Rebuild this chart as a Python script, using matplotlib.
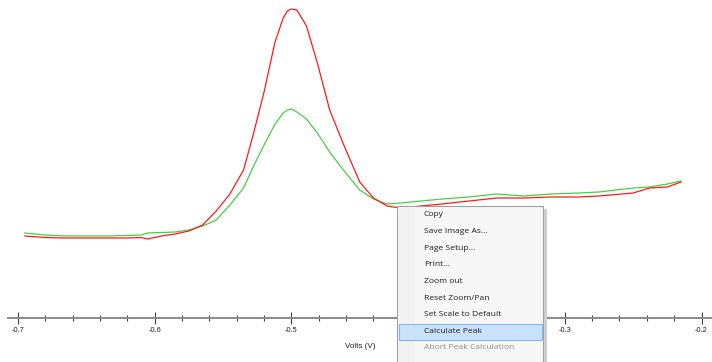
import numpy as np
import matplotlib.pyplot as plt
from matplotlib.patches import Rectangle
from matplotlib.ticker import MultipleLocator

plt.rcParams['axes.unicode_minus'] = False

# Potencial (V) y corriente (uA)
volts = [-0.695, -0.68, -0.665, -0.65, -0.635, -0.62, -0.61, -0.605, -0.595, -0.585,
         -0.575, -0.565, -0.555, -0.545, -0.535, -0.528, -0.52, -0.512, -0.506, -0.503,
         -0.5, -0.496, -0.489, -0.481, -0.472, -0.462, -0.45, -0.44, -0.43, -0.42,
         -0.405, -0.39, -0.37, -0.35, -0.33, -0.31, -0.29, -0.275, -0.25, -0.238,
         -0.225, -0.215]

red_curr = [0.82, 0.805, 0.80, 0.80, 0.80, 0.80, 0.805, 0.79, 0.82, 0.84,
            0.87, 0.93, 1.07, 1.24, 1.48, 1.83, 2.26, 2.76, 3.00, 3.07,
            3.09, 3.08, 2.92, 2.55, 2.08, 1.74, 1.36, 1.20, 1.12, 1.10,
            1.12, 1.14, 1.17, 1.20, 1.20, 1.21, 1.21, 1.22, 1.25, 1.30,
            1.31, 1.36]

green_curr = [0.85, 0.83, 0.82, 0.82, 0.82, 0.825, 0.83, 0.85, 0.855, 0.86,
              0.88, 0.92, 0.98, 1.13, 1.30, 1.51, 1.73, 1.94, 2.05, 2.08,
              2.09, 2.06, 1.99, 1.85, 1.66, 1.48, 1.28, 1.19, 1.14, 1.15,
              1.17, 1.19, 1.21, 1.24, 1.22, 1.24, 1.25, 1.26, 1.30, 1.31,
              1.34, 1.37]

tick_vals = [-0.7, -0.6, -0.5, -0.4, -0.3, -0.2]
tick_labels = ['-0.7', '-0.6', '-0.5', '', '-0.3', '-0.2']  # -0.4 queda tapado por el menu

menu_items = ["Copy", "Save Image As...", "Page Setup...", "Print...", "Zoom out",
              "Reset Zoom/Pan", "Set Scale to Default", "Calculate Peak",
              "Abort Peak Calculation"]

fig = plt.figure(figsize=(7.12, 3.62), dpi=100)
ax = fig.add_axes([0, 0, 1, 1])

ax.plot(volts, green_curr, color='#45d045', lw=0.9)
ax.plot(volts, red_curr, color='#ff1a1a', lw=0.9)

ax.set_xlim(-0.71317, -0.19232)
ax.set_ylim(-0.44, 3.18)

for s in ['left', 'right', 'top']:
    ax.spines[s].set_visible(False)
ax.spines['bottom'].set_position(('data', 0))
ax.spines['bottom'].set_color('#8a8a8a')
ax.spines['bottom'].set_linewidth(1.4)
ax.spines['bottom'].set_bounds(-0.7073, -0.19232)

ax.set_yticks([])
ax.set_xticks(tick_vals)
ax.set_xticklabels(tick_labels, family='Liberation Sans')
ax.xaxis.set_minor_locator(MultipleLocator(0.02))
ax.tick_params(axis='x', which='major', direction='inout', length=8.6, width=0.8,
               color='#404040', pad=2.5, labelsize=5.3, labelcolor='#222222')
ax.tick_params(axis='x', which='minor', direction='inout', length=4.3, width=0.8,
               color='#404040')

ax.set_xlabel("Volts (V)", fontsize=5.8, family='Liberation Sans', color='#222222')
ax.xaxis.set_label_coords(360 / 712, (362 - 346) / 362)
ax.xaxis.label.set_va('center')

# Menu contextual (coordenadas en pixeles)
om = fig.add_axes([0, 0, 1, 1], zorder=5)
om.set_xlim(0, 712)
om.set_ylim(362, 0)
om.axis('off')
om.patch.set_visible(False)

om.add_patch(Rectangle((543, 209), 4, 160, color='#cfcfcf', lw=0))
om.add_patch(Rectangle((397, 206), 146, 160, facecolor='#f7f7f7',
                       edgecolor='#a0a0a0', lw=0.8))
om.add_patch(Rectangle((398, 207), 17, 158, color='#f2f2f2', lw=0))
om.add_patch(Rectangle((398.5, 323.5), 143.5, 16.5, facecolor='#c9e2fb',
                       edgecolor='#86b8ec', lw=0.8))

y0, step = 215, 16.6
for i, item in enumerate(menu_items):
    col = '#8f8f8f' if item.startswith('Abort') else '#1e1e1e'
    om.text(424, y0 + i * step, item, fontsize=6.1, family='Open Sans',
            color=col, va='center', ha='left')

fig.savefig('out.png', dpi=100)
